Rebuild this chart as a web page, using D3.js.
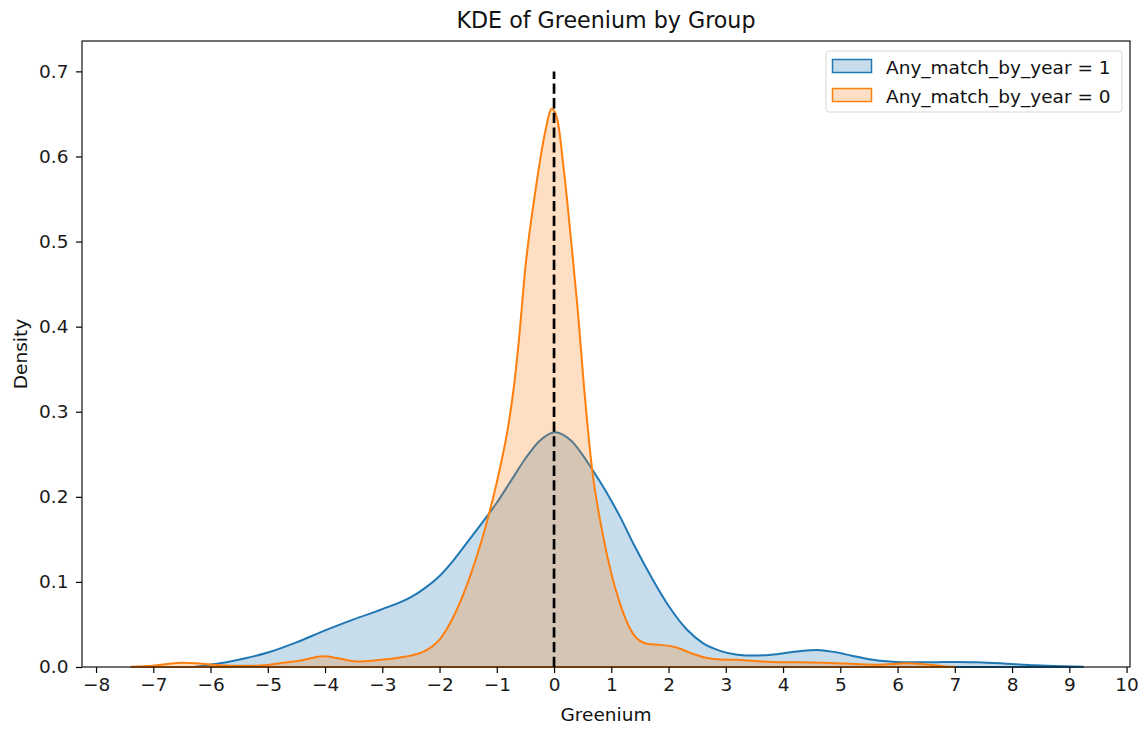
<!DOCTYPE html>
<html>
<head>
  <meta charset="utf-8">
  <style>
    body{ margin:0; background:#fff; font-family:"DejaVu Sans", sans-serif; }
    .tick text{ font-size:18.5px; fill:#1a1a1a; font-family:"DejaVu Sans", sans-serif; }
    .tick line{ stroke:#000; stroke-width:1.2px; }
    .domain{ display:none; }
    .spine{ stroke:#111; stroke-width:1.2px; fill:none; }
  </style>
  <script src="https://d3js.org/d3.v7.min.js"></script>
</head>
<body>
<div class="chart"></div>
<script>
// Any_match_by_year = 1 (blue)
const blueX = [-6.3, -6.1, -5.7, -5.37, -5.0, -4.5, -4.0, -3.5, -3.0, -2.5, -2.25, -2.0, -1.75, -1.5, -1.25, -1.0, -0.75, -0.5, -0.25, 0.02, 0.3, 0.66, 0.9, 1.15, 1.4, 1.73, 2.0, 2.32, 2.6, 2.9, 3.2, 3.5, 3.8, 4.1, 4.35, 4.6, 4.9, 5.2, 5.5, 5.87, 6.2, 6.6, 7.0, 7.4, 7.9, 8.4, 8.9, 9.24];
const blueDensity = [0.0, 0.002, 0.006, 0.0105, 0.017, 0.029, 0.043, 0.056, 0.068, 0.082, 0.093, 0.107, 0.126, 0.148, 0.170, 0.193, 0.219, 0.245, 0.266, 0.276, 0.266, 0.233, 0.207, 0.177, 0.143, 0.102, 0.072, 0.044, 0.028, 0.019, 0.0145, 0.0135, 0.0145, 0.0170, 0.0192, 0.0200, 0.0175, 0.0133, 0.0092, 0.0066, 0.0055, 0.0055, 0.0060, 0.0055, 0.0039, 0.002, 0.0008, 0.0002];

// Any_match_by_year = 0 (orange)
const orangeX = [-7.38, -7.0, -6.75, -6.5, -6.25, -6.0, -5.6, -5.3, -5.0, -4.78, -4.4, -4.03, -3.75, -3.45, -3.1, -2.75, -2.28, -1.99, -1.75, -1.47, -1.12, -0.94, -0.80, -0.70, -0.62, -0.50, -0.32, -0.16, -0.04, 0.06, 0.16, 0.31, 0.42, 0.51, 0.66, 0.86, 1.15, 1.44, 1.65, 1.85, 2.14, 2.4, 2.67, 2.9, 3.2, 3.5, 3.83, 4.3, 4.7, 5.1, 5.58, 5.9, 6.16, 6.5, 6.8, 7.0];
const orangeDensity = [0.0003, 0.0015, 0.0035, 0.005, 0.0045, 0.003, 0.0015, 0.0015, 0.0025, 0.0045, 0.008, 0.0125, 0.010, 0.0066, 0.008, 0.0105, 0.018, 0.033, 0.060, 0.106, 0.184, 0.235, 0.283, 0.330, 0.380, 0.470, 0.562, 0.627, 0.656, 0.643, 0.591, 0.493, 0.415, 0.340, 0.235, 0.153, 0.075, 0.034, 0.027, 0.026, 0.023, 0.016, 0.0105, 0.0088, 0.0085, 0.007, 0.006, 0.0055, 0.005, 0.004, 0.0027, 0.0035, 0.0045, 0.003, 0.001, 0.0002];

const xTicks = d3.range(-8, 11, 1);
const yTicks = [0.0, 0.1, 0.2, 0.3, 0.4, 0.5, 0.6, 0.7];
const legendLabels = ['Any_match_by_year = 1', 'Any_match_by_year = 0'];
const vlineX = 0, vlineTop = 0.7;

const width = 1144, height = 732;
const margin = {left:82, right:14, top:41, bottom:65};

const svg = d3.select('.chart').append('svg')
  .attr('width', width).attr('height', height);

const x = d3.scaleLinear().domain([-8.245, 10.06]).range([margin.left, width - margin.right]);
const y = d3.scaleLinear().domain([0, 0.7357]).range([height - margin.bottom, margin.top]);

const series = [
  {xs: blueX, ys: blueDensity, color:'#1f77b4'},
  {xs: orangeX, ys: orangeDensity, color:'#ff7f0e'}
];

const area = d3.area()
  .x(d => x(d[0])).y0(y(0)).y1(d => y(d[1]))
  .curve(d3.curveMonotoneX);

series.forEach(s => {
  const pts = s.xs.map((v, i) => [v, s.ys[i]]);
  svg.append('path')
    .attr('d', area(pts))
    .attr('fill', s.color).attr('fill-opacity', 0.25)
    .attr('stroke', s.color).attr('stroke-width', 2)
    .attr('stroke-linejoin', 'round');
});

// dashed reference line at zero
svg.append('line')
  .attr('x1', x(vlineX)).attr('x2', x(vlineX))
  .attr('y1', y(0)).attr('y2', y(vlineTop))
  .attr('stroke', '#000').attr('stroke-width', 2.7)
  .attr('stroke-dasharray', '10.3,4.4');

// axes
svg.append('g')
  .attr('transform', `translate(0,${y(0)})`)
  .call(d3.axisBottom(x).tickValues(xTicks).tickFormat(d3.format('d')).tickSize(6).tickPadding(5));

svg.append('g')
  .attr('transform', `translate(${margin.left},0)`)
  .call(d3.axisLeft(y).tickValues(yTicks).tickFormat(d3.format('.1f')).tickSize(6).tickPadding(7.5));

svg.append('rect').attr('class', 'spine')
  .attr('x', margin.left).attr('y', margin.top)
  .attr('width', width - margin.right - margin.left)
  .attr('height', y(0) - margin.top);

// labels
svg.append('text')
  .attr('x', (margin.left + width - margin.right) / 2).attr('y', 28)
  .attr('text-anchor', 'middle').attr('font-size', 22.2).attr('fill', '#111')
  .text('KDE of Greenium by Group');

svg.append('text')
  .attr('x', (margin.left + width - margin.right) / 2).attr('y', 721)
  .attr('text-anchor', 'middle').attr('font-size', 18.5).attr('fill', '#111')
  .text('Greenium');

svg.append('text')
  .attr('transform', `translate(27,${(margin.top + y(0)) / 2}) rotate(-90)`)
  .attr('text-anchor', 'middle').attr('font-size', 18.5).attr('fill', '#111')
  .text('Density');

// legend
const lg = svg.append('g').attr('transform', 'translate(826,51)');
lg.append('rect')
  .attr('width', 296).attr('height', 61).attr('rx', 3)
  .attr('fill', '#fff').attr('fill-opacity', 0.8)
  .attr('stroke', '#d6d6d6').attr('stroke-width', 1);

series.forEach((s, i) => {
  const row = lg.append('g').attr('transform', `translate(6.5,${8.5 + i * 29})`);
  row.append('rect')
    .attr('width', 39).attr('height', 13)
    .attr('fill', s.color).attr('fill-opacity', 0.25)
    .attr('stroke', s.color).attr('stroke-width', 1.5);
  row.append('text')
    .attr('x', 53.5).attr('y', 14)
    .attr('font-size', 18.5).attr('fill', '#111')
    .text(legendLabels[i]);
});
</script>
</body>
</html>
